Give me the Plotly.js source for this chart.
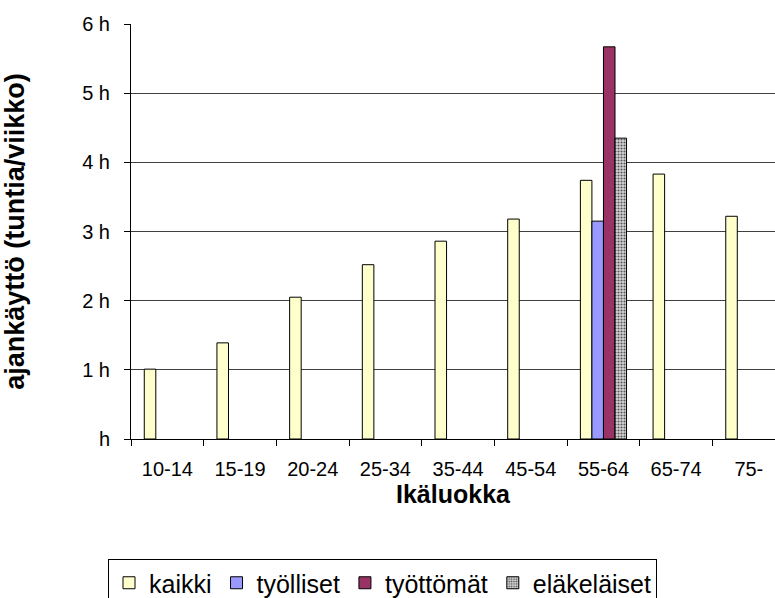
<!DOCTYPE html>
<html>
<head>
<meta charset="utf-8">
<script src="https://cdn.plot.ly/plotly-3.0.1.min.js"></script>
<style>html,body{margin:0;padding:0;background:#fff;}#chart{width:775px;height:598px;}</style>
</head>
<body>
<div id="chart"></div>
<script>
const categories = ["10-14", "15-19", "20-24", "25-34", "35-44", "45-54", "55-64", "65-74", "75-"];
const kaikki = [1.01, 1.39, 2.05, 2.52, 2.86, 3.18, 3.74, 3.83, 3.22];
const tyolliset = [null, null, null, null, null, null, 3.15, null, null];
const tyottomat = [null, null, null, null, null, null, 5.67, null, null];
const elakelaiset = [null, null, null, null, null, null, 4.35, null, null];
const seriesNames = ["kaikki", "työlliset", "työttömät", "eläkeläiset"];
const yTickVals = [0, 1, 2, 3, 4, 5, 6];
const yTickText = ["h", "1 h", "2 h", "3 h", "4 h", "5 h", "6 h"];

const FONT = "Liberation Sans, Arial, sans-serif";
const line = {color: "#000", width: 1};

const traces = [
  {type: "bar", name: seriesNames[0], x: categories, y: kaikki,
   marker: {color: "#FFFFCC", line: line}},
  {type: "bar", name: seriesNames[1], x: categories, y: tyolliset,
   marker: {color: "#9999FF", line: line}},
  {type: "bar", name: seriesNames[2], x: categories, y: tyottomat,
   marker: {color: "#993366", line: line}},
  {type: "bar", name: seriesNames[3], x: categories, y: elakelaiset,
   marker: {color: "#c8c8c8", line: line,
            pattern: {shape: ".", fgcolor: "#555", bgcolor: "#d6d6d6", size: 3, solidity: 0.4}}}
];

const layout = {
  width: 775, height: 598,
  margin: {l: 131, r: 0, t: 24, b: 159},
  paper_bgcolor: "#fff", plot_bgcolor: "#fff",
  font: {family: FONT, color: "#000", size: 20},
  barmode: "group",
  bargap: 0.365,
  bargroupgap: 0,
  showlegend: true,
  legend: {
    orientation: "h",
    xref: "container", yref: "container",
    x: 108 / 775, xanchor: "left",
    y: 1 - 559 / 598, yanchor: "top",
    font: {family: FONT, size: 25, color: "#000"},
    bordercolor: "#000", borderwidth: 1,
    bgcolor: "#fff",
    traceorder: "normal",
    tracegroupgap: 0
  },
  xaxis: {
    type: "category",
    range: [-0.5, 8.36],
    showline: true, linecolor: "#000", linewidth: 1,
    ticks: "outside", ticklen: 6, tickcolor: "#000",
    tickson: "boundaries",
    showgrid: false, zeroline: false,
    tickfont: {family: FONT, size: 20, color: "#000"},
    ticklabelstandoff: 12,
    title: {text: "<b>Ikäluokka</b>", font: {family: FONT, size: 25, color: "#000"}, standoff: 5}
  },
  yaxis: {
    range: [0, 6],
    tickvals: yTickVals, ticktext: yTickText,
    showline: true, linecolor: "#000", linewidth: 1,
    ticks: "outside", ticklen: 6, tickcolor: "#000",
    showgrid: true, gridcolor: "#404040", gridwidth: 1,
    zeroline: false,
    tickfont: {family: FONT, size: 20, color: "#000"},
    ticklabelstandoff: 10,
    title: {text: "<b>ajankäyttö (tuntia/viikko)</b>", font: {family: FONT, size: 27, color: "#000"}, standoff: 52}
  }
};

Plotly.newPlot("chart", traces, layout, {displayModeBar: false, staticPlot: true});
</script>
</body>
</html>
